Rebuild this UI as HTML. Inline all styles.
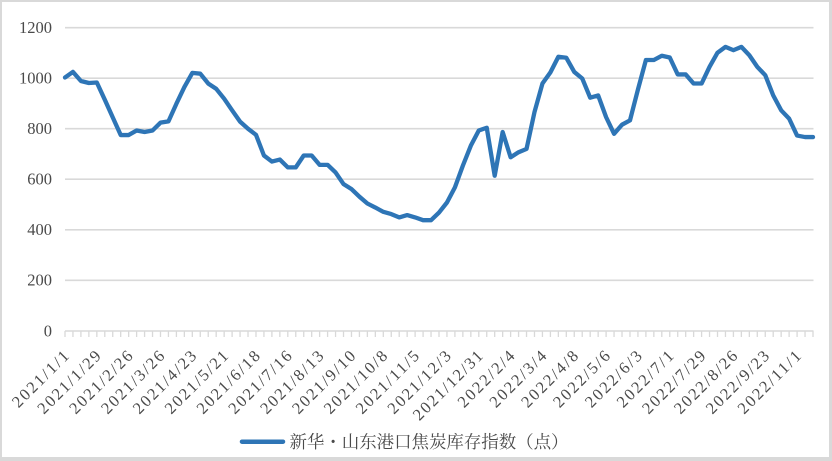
<!DOCTYPE html>
<html>
<head>
<meta charset="utf-8">
<style>
  html,body{margin:0;padding:0;background:#d9d9d9;}
  body{width:832px;height:461px;overflow:hidden;position:relative;}
  svg{position:absolute;left:0;top:0;}
  .t{font-family:"Liberation Serif","Noto Serif CJK SC",serif;fill:#4a4a4a;}
</style>
</head>
<body>
<svg width="832" height="461" viewBox="0 0 832 461" xmlns="http://www.w3.org/2000/svg">
  <rect x="2" y="2" width="827" height="455" fill="#ffffff"/>
  <!-- gridlines -->
  <g stroke="#d9d9d9" stroke-width="1.6">
    <line x1="65" y1="27.7" x2="813.5" y2="27.7"/>
    <line x1="65" y1="78.2" x2="813.5" y2="78.2"/>
    <line x1="65" y1="128.7" x2="813.5" y2="128.7"/>
    <line x1="65" y1="179.2" x2="813.5" y2="179.2"/>
    <line x1="65" y1="229.8" x2="813.5" y2="229.8"/>
    <line x1="65" y1="280.3" x2="813.5" y2="280.3"/>
    <line x1="65" y1="331" x2="813.5" y2="331"/>
  </g>
  <!-- ticks -->
  <line x1="64.35" y1="334" x2="814" y2="334" stroke="#d9d9d9" stroke-width="6" stroke-dasharray="1.3 6.6574"/>
  <!-- y labels -->
  <g class="t" font-size="16.5" text-anchor="end">
    <text x="52" y="33.1">1200</text>
    <text x="52" y="83.6">1000</text>
    <text x="52" y="134.1">800</text>
    <text x="52" y="184.6">600</text>
    <text x="52" y="235.2">400</text>
    <text x="52" y="285.7">200</text>
    <text x="52" y="336.4">0</text>
  </g>
  <!-- series -->
  <g transform="translate(65,330.8) scale(7.9574,-0.25258)">
    <polyline fill="none" stroke="#2e75b6" stroke-width="4.3" stroke-linejoin="round" stroke-linecap="round" vector-effect="non-scaling-stroke"
      points="0,1003 1,1025 2,989 3,981 4,983 5,915 6,845 7,775 8,775 9,793 10,787 11,793 12,824 13,829 14,899 15,965 16,1021 17,1018 18,979 19,958 20,919 21,873 22,828 23,800 24,776 25,694 26,670 27,678 28,647 29,647 30,694 31,694 32,657 33,657 34,627 35,581 36,561 37,531 38,504 39,488 40,471 41,462 42,449 43,458 44,449 45,438 46,438 47,468 48,508 49,568 50,654 51,733 52,793 53,804 54,614 55,787 56,687 57,707 58,720 59,866 60,979 61,1023 62,1085 63,1081 64,1025 65,999 66,923 67,932 68,846 69,780 70,816 71,833 72,955 73,1072 74,1072 75,1089 76,1082 77,1015 78,1015 79,979 80,979 81,1045 82,1101 83,1124 84,1111 85,1124 86,1091 87,1045 88,1012 89,932 90,873 91,840 92,773 93,767 94,767"/>
  </g>
  <!-- x labels -->
  <g class="t" font-size="16.5" text-anchor="end">
    <text transform="translate(70,357) rotate(-45)" textLength="72.8" lengthAdjust="spacing">2021/1/1</text>
    <text transform="translate(101.83,357) rotate(-45)" textLength="81.9" lengthAdjust="spacing">2021/1/29</text>
    <text transform="translate(133.66,357) rotate(-45)" textLength="81.9" lengthAdjust="spacing">2021/2/26</text>
    <text transform="translate(165.49,357) rotate(-45)" textLength="81.9" lengthAdjust="spacing">2021/3/26</text>
    <text transform="translate(197.32,357) rotate(-45)" textLength="81.9" lengthAdjust="spacing">2021/4/23</text>
    <text transform="translate(229.15,357) rotate(-45)" textLength="81.9" lengthAdjust="spacing">2021/5/21</text>
    <text transform="translate(260.98,357) rotate(-45)" textLength="81.9" lengthAdjust="spacing">2021/6/18</text>
    <text transform="translate(292.81,357) rotate(-45)" textLength="81.9" lengthAdjust="spacing">2021/7/16</text>
    <text transform="translate(324.64,357) rotate(-45)" textLength="81.9" lengthAdjust="spacing">2021/8/13</text>
    <text transform="translate(356.47,357) rotate(-45)" textLength="81.9" lengthAdjust="spacing">2021/9/10</text>
    <text transform="translate(388.3,357) rotate(-45)" textLength="81.9" lengthAdjust="spacing">2021/10/8</text>
    <text transform="translate(420.13,357) rotate(-45)" textLength="81.9" lengthAdjust="spacing">2021/11/5</text>
    <text transform="translate(451.96,357) rotate(-45)" textLength="81.9" lengthAdjust="spacing">2021/12/3</text>
    <text transform="translate(483.78,357) rotate(-45)" textLength="91" lengthAdjust="spacing">2021/12/31</text>
    <text transform="translate(515.61,357) rotate(-45)" textLength="72.8" lengthAdjust="spacing">2022/2/4</text>
    <text transform="translate(547.44,357) rotate(-45)" textLength="72.8" lengthAdjust="spacing">2022/3/4</text>
    <text transform="translate(579.27,357) rotate(-45)" textLength="72.8" lengthAdjust="spacing">2022/4/8</text>
    <text transform="translate(611.1,357) rotate(-45)" textLength="72.8" lengthAdjust="spacing">2022/5/6</text>
    <text transform="translate(642.93,357) rotate(-45)" textLength="72.8" lengthAdjust="spacing">2022/6/3</text>
    <text transform="translate(674.76,357) rotate(-45)" textLength="72.8" lengthAdjust="spacing">2022/7/1</text>
    <text transform="translate(706.59,357) rotate(-45)" textLength="81.9" lengthAdjust="spacing">2022/7/29</text>
    <text transform="translate(738.42,357) rotate(-45)" textLength="81.9" lengthAdjust="spacing">2022/8/26</text>
    <text transform="translate(770.25,357) rotate(-45)" textLength="81.9" lengthAdjust="spacing">2022/9/23</text>
    <text transform="translate(802.08,357) rotate(-45)" textLength="81.9" lengthAdjust="spacing">2022/11/1</text>
  </g>
  <!-- legend -->
  <line x1="242" y1="441.7" x2="283" y2="441.7" stroke="#2e75b6" stroke-width="4.5" stroke-linecap="round"/>
  <text class="t" x="289.5" y="447.8" font-size="17.5" textLength="279" lengthAdjust="spacing">新华・山东港口焦炭库存指数（点）</text>
</svg>
</body>
</html>
